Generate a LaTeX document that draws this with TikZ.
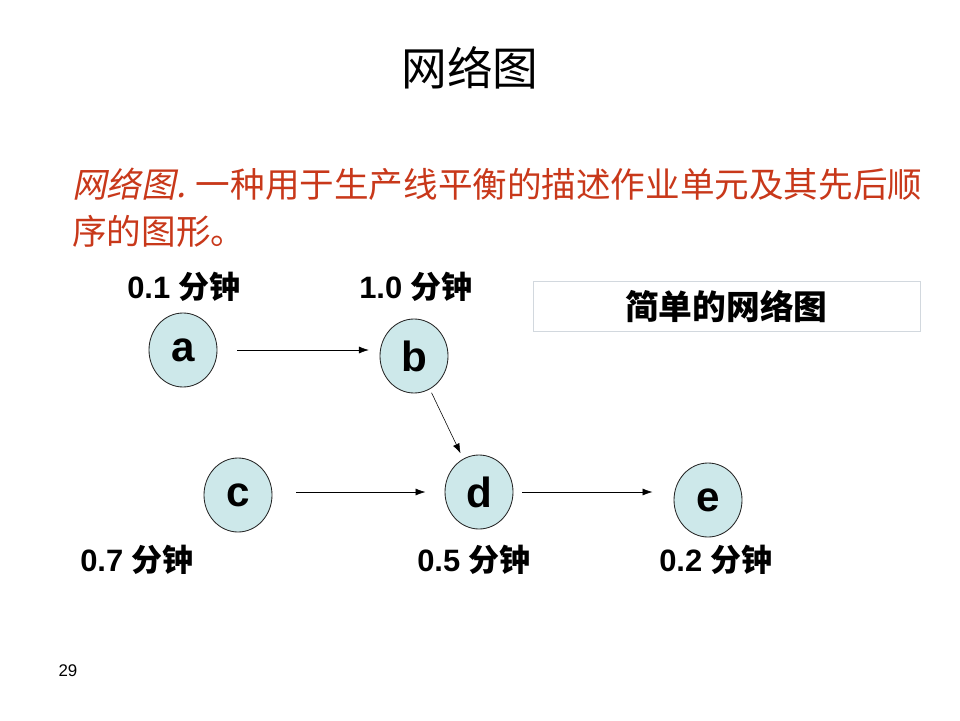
\documentclass[tikz,border=0pt]{standalone}
\usepackage{fontspec}
\setmainfont{Liberation Sans}
\newfontfamily\cjk{Noto Sans CJK SC}
\newfontfamily\cjkit{Noto Sans CJK SC}[FakeSlant=0.2]
\usetikzlibrary{shapes.geometric,arrows.meta}
\definecolor{nodefill}{RGB}{205,232,234}
\definecolor{defred}{RGB}{200,56,26}
\definecolor{boxline}{RGB}{210,216,222}
\begin{document}
\begin{tikzpicture}[
  task/.style={ellipse,draw=black!85,semithick,fill=nodefill,minimum width=1.7cm,minimum height=1.85cm,inner sep=0pt,font=\fontsize{30}{30}\selectfont\bfseries},
  time/.style={font=\fontsize{22}{22}\selectfont\bfseries},
  flow/.style={-{Latex[length=7pt,width=5pt]},thin}]
\useasboundingbox (0,0) rectangle (24,18);
\node[font=\fontsize{32.5}{32.5}\selectfont\cjk] (title) at (11.75,16.3) {网络图};
\node[anchor=north west,align=left,text=defred,inner sep=0pt,font=\fontsize{24.6}{33.5}\selectfont\cjk] (def) at (1.8,13.8)
  {{\cjkit 网络图.} 一种用于生产线平衡的描述作业单元及其先后顺\\序的图形。};
\node[draw=boxline,minimum width=9.675cm,minimum height=1.25cm,font=\fontsize{24}{24}\selectfont\cjk\bfseries] (caption) at (18.16,10.35) {简单的网络图};
\node[task] (a) at (4.575,9.25) {a};
\node[task] (b) at (10.35,9.1) {b};
\node[task] (c) at (5.95,5.625) {c};
\node[task] (d) at (11.975,5.7) {d};
\node[task] (e) at (17.7,5.5) {e};
\node[time] (ta) at (4.6,10.825) {0.1 {\cjk 分钟}};
\node[time] (tb) at (10.4,10.825) {1.0 {\cjk 分钟}};
\node[time] (tc) at (3.425,4.0) {0.7 {\cjk 分钟}};
\node[time] (td) at (11.85,4.0) {0.5 {\cjk 分钟}};
\node[time] (te) at (17.9,4.0) {0.2 {\cjk 分钟}};
\draw[flow,shorten <=0.5cm,shorten >=1.13cm] (a) -- (a -| b);
\draw[flow,shorten <=0.1cm,shorten >=0.15cm] (b) -- (d);
\draw[flow,shorten <=1.45cm,shorten >=0.48cm] (d -| c) -- (d);
\draw[flow,shorten <=0.22cm,shorten >=1.39cm] (d) -- (d -| e);
\node[font=\fontsize{12}{12}\selectfont] (page) at (1.7,1.225) {29};
\end{tikzpicture}
\end{document}
